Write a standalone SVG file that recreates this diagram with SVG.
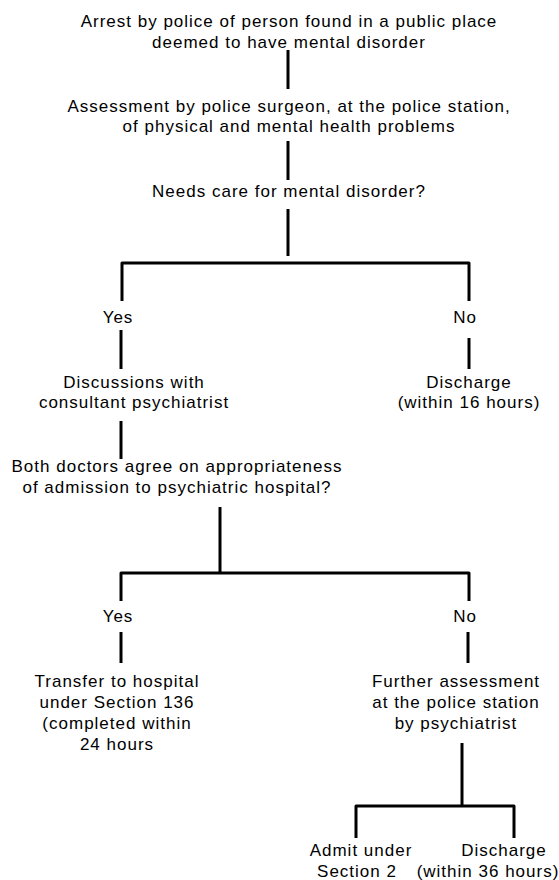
<svg xmlns="http://www.w3.org/2000/svg" width="559" height="880" viewBox="0 0 559 880">
<style>
text{font-family:"Liberation Sans",Arial,Helvetica,sans-serif;font-size:17px;letter-spacing:1px;fill:#000;text-anchor:middle}
.c{fill:none;stroke:#000;stroke-width:3;stroke-linejoin:round}
</style>
<rect width="559" height="880" fill="#fff"/>
<g id="connectors">
<path class="c" d="M288 50V89"/>
<path class="c" d="M288 141V180"/>
<path class="c" d="M288 209V256"/>
<path class="c" d="M122 301V263H469V301"/>
<path class="c" d="M121 330V369"/>
<path class="c" d="M469 338V369"/>
<path class="c" d="M121 421V459"/>
<path class="c" d="M220 507V573"/>
<path class="c" d="M121 601V573H469V601"/>
<path class="c" d="M121 632V663"/>
<path class="c" d="M468 632V663"/>
<path class="c" d="M462 743V806"/>
<path class="c" d="M356 838V806H514V838"/>
</g>
<g id="arrest"><text x="289" y="27">Arrest by police of person found in a public place</text><text x="289" y="48">deemed to have mental disorder</text></g>
<g id="assessment"><text x="289" y="112">Assessment by police surgeon, at the police station,</text><text x="289" y="132">of physical and mental health problems</text></g>
<g id="needs-care"><text x="289" y="197">Needs care for mental disorder?</text></g>
<g id="yes1"><text x="118" y="323">Yes</text></g>
<g id="no1"><text x="465" y="323">No</text></g>
<g id="discussions"><text x="134" y="388">Discussions with</text><text x="134" y="408">consultant psychiatrist</text></g>
<g id="discharge16"><text x="469" y="388">Discharge</text><text x="469" y="408">(within 16 hours)</text></g>
<g id="agree"><text x="177" y="472">Both doctors agree on appropriateness</text><text x="177" y="493">of admission to psychiatric hospital?</text></g>
<g id="yes2"><text x="118" y="622">Yes</text></g>
<g id="no2"><text x="465" y="622">No</text></g>
<g id="transfer"><text x="117" y="687">Transfer to hospital</text><text x="117" y="708">under Section 136</text><text x="117" y="729">(completed within</text><text x="117" y="750">24 hours</text></g>
<g id="further"><text x="456" y="687">Further assessment</text><text x="456" y="708">at the police station</text><text x="456" y="729">by psychiatrist</text></g>
<g id="admit"><text x="361" y="856">Admit under</text><text x="357" y="877">Section 2</text></g>
<g id="discharge36"><text x="504" y="856">Discharge</text><text x="488" y="877">(within 36 hours)</text></g>
</svg>
